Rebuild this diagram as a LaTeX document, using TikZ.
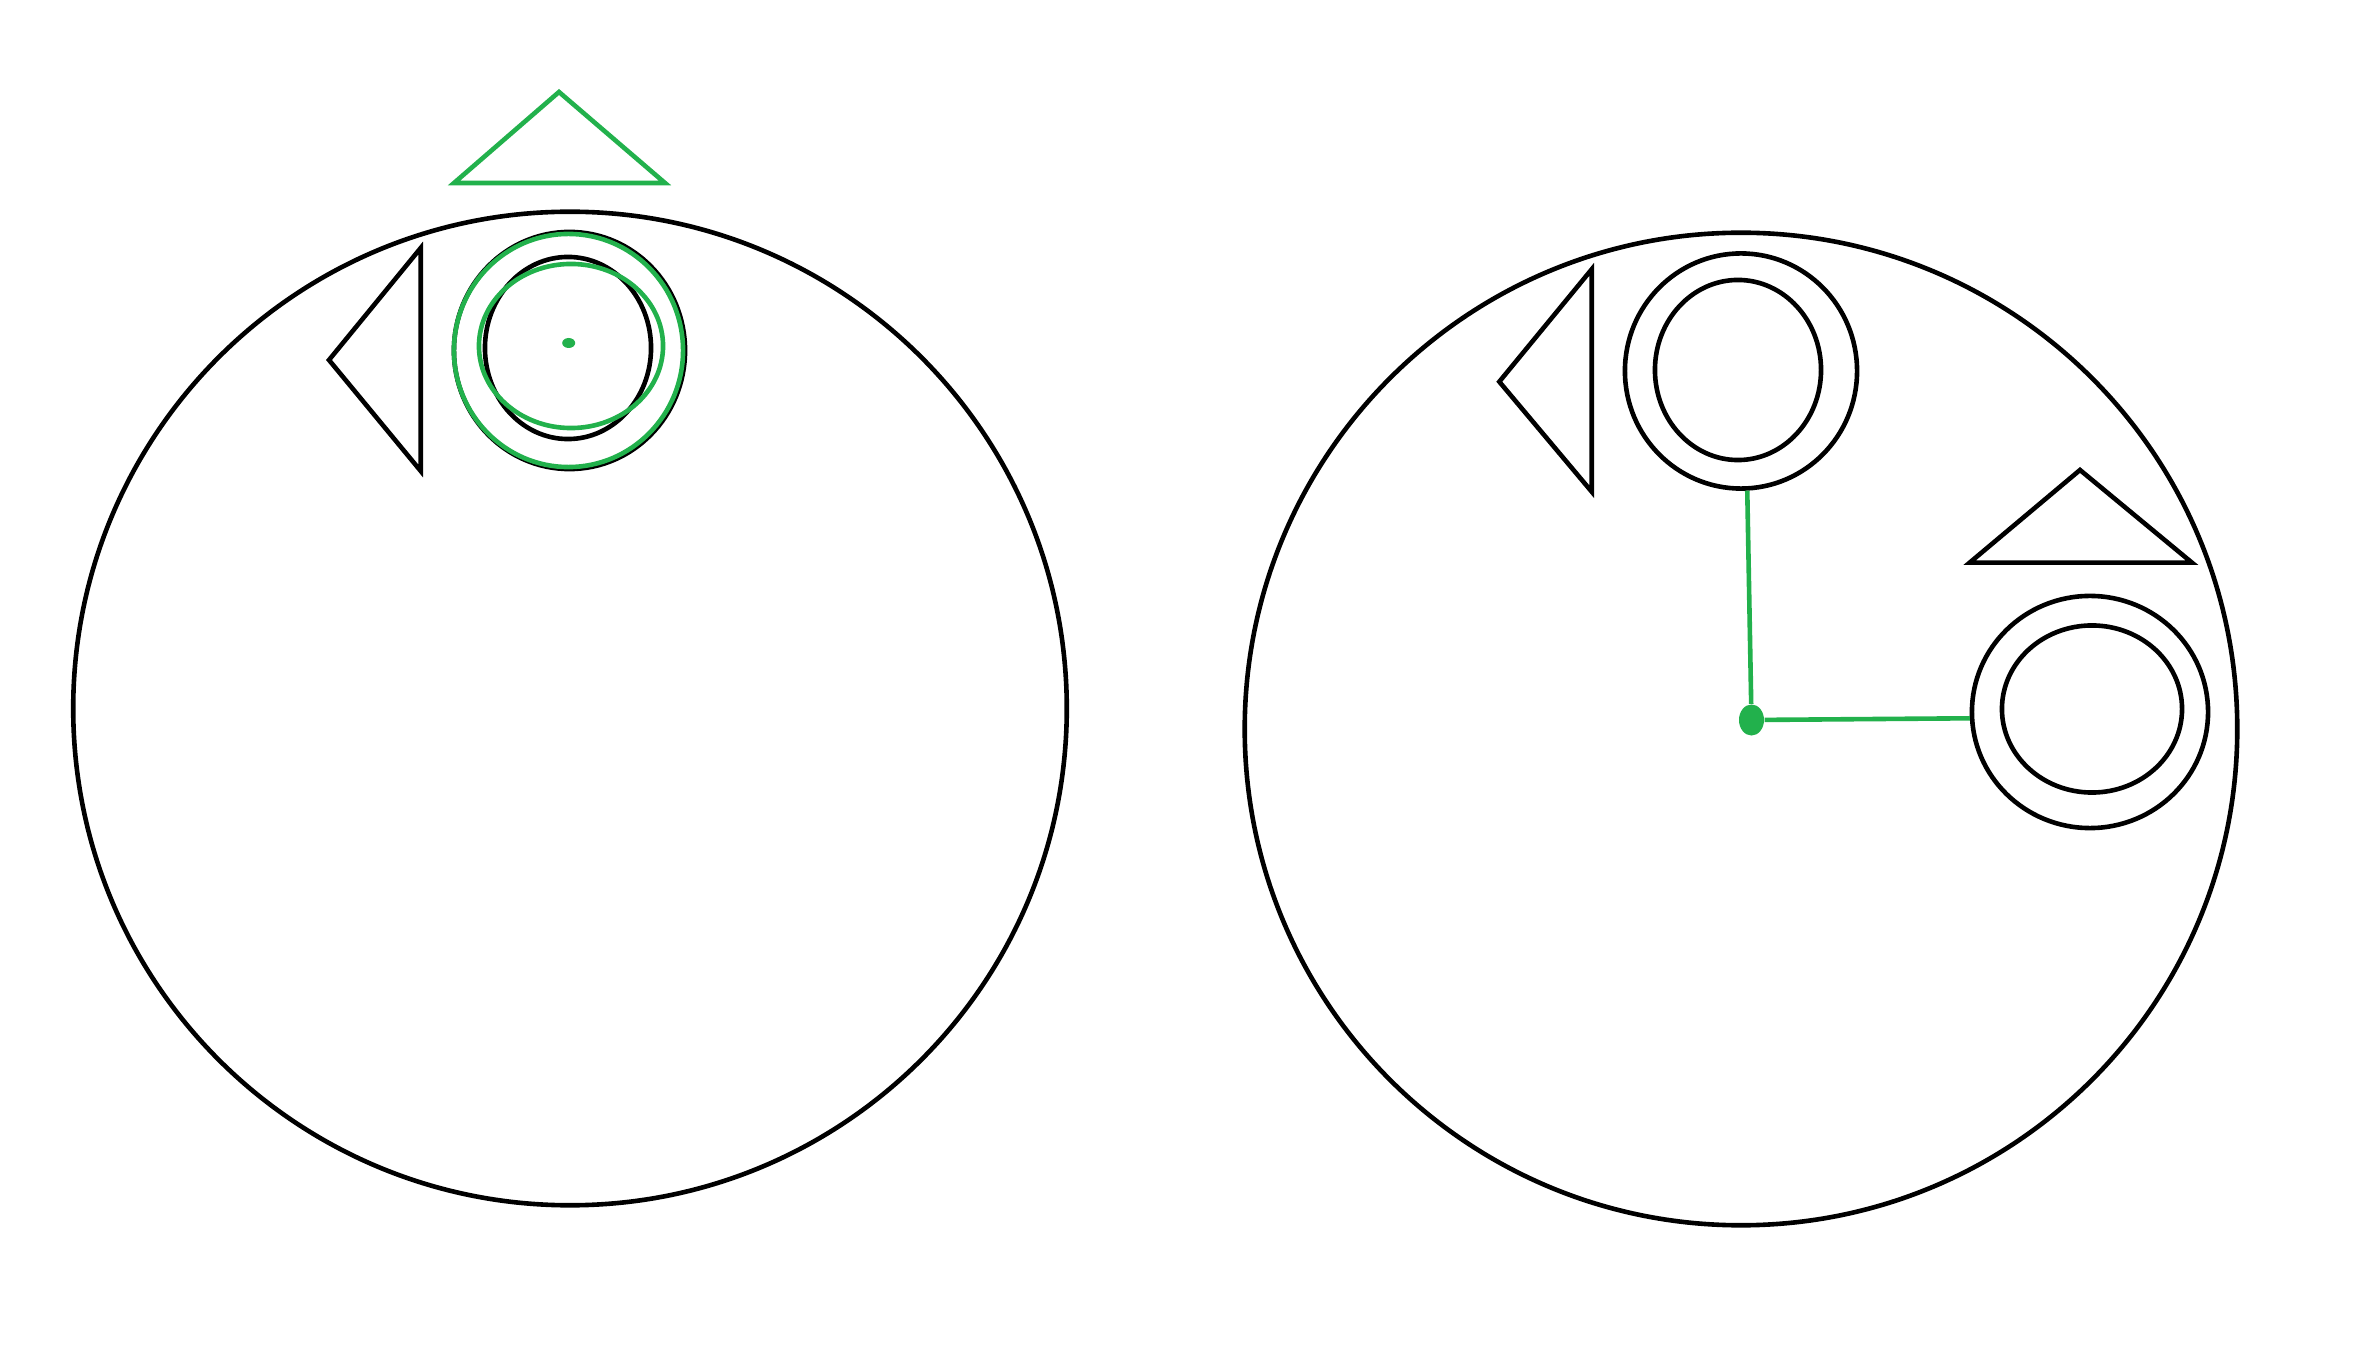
\documentclass[tikz,border=0pt]{standalone}
\usetikzlibrary{shapes.geometric}
\definecolor{pgreen}{RGB}{34,177,76}
\begin{document}
\begin{tikzpicture}[x=0.01cm,y=-0.01cm,
  ring/.style={ellipse, draw, inner sep=0pt, line width=0.046cm},
  tri/.style={draw, line width=0.046cm},
  gline/.style={draw=pgreen, line width=0.046cm},
  gdot/.style={ellipse, fill=pgreen, inner sep=0pt}]
\fill[white] (0,0) rectangle (2356,1352);
\useasboundingbox (0,0) rectangle (2356,1352);
% big circles
\node[ring, minimum width=9.93cm, minimum height=9.93cm] (bigL) at (570,708.5) {};
\node[ring, minimum width=9.92cm, minimum height=9.92cm] (bigR) at (1741,729) {};
% left figure
\draw[gline] (559,92) -- (665,183) -- (454,183) -- cycle;
\draw[tri] (420.7,248) -- (329,360) -- (420.7,471) -- cycle;
\node[ring, minimum width=2.31cm, minimum height=2.37cm] (ringLo) at (569.5,350.5) {};
\node[ring, minimum width=1.66cm, minimum height=1.82cm] (ringLi) at (568,348) {};
\node[ring, draw=pgreen, minimum width=2.29cm, minimum height=2.33cm] (gringLo) at (568.5,350.5) {};
\node[ring, draw=pgreen, minimum width=1.84cm, minimum height=1.64cm] (gringLi) at (571,346) {};
\node[gdot, minimum width=0.13cm, minimum height=0.10cm] (dotL) at (568.7,343) {};
% right figure
\draw[tri] (1591.7,269.3) -- (1499.3,381.7) -- (1591.7,491.7) -- cycle;
\node[ring, minimum width=2.32cm, minimum height=2.35cm] (ringA) at (1741,371) {};
\node[ring, minimum width=1.66cm, minimum height=1.80cm] (ringAi) at (1738,370) {};
\draw[tri] (2080,470) -- (2192,562.7) -- (1969.6,562.7) -- cycle;
\node[ring, minimum width=2.36cm, minimum height=2.32cm] (ringB) at (2090,712) {};
\node[ring, minimum width=1.80cm, minimum height=1.67cm] (ringBi) at (2092,709) {};
\node[gdot, minimum width=0.25cm, minimum height=0.31cm] (dotR) at (1751.5,720) {};
% connectors
\draw[gline] (ringA.273) -- (dotR);
\draw[gline] (dotR) -- (ringB.183);
\end{tikzpicture}
\end{document}
